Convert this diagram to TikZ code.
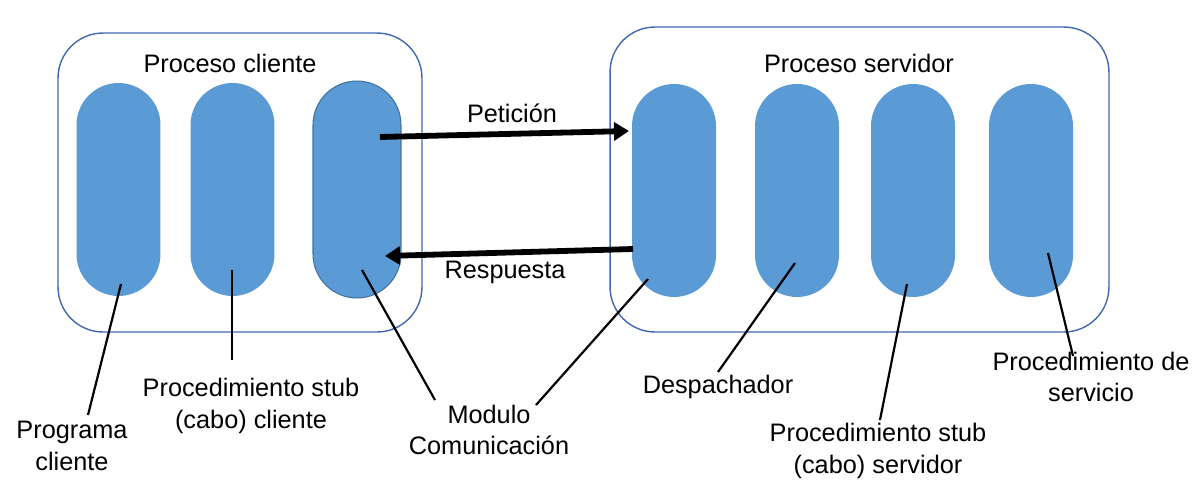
\documentclass[tikz,border=0pt]{standalone}
\usepackage{fontspec}
\setmainfont{Liberation Sans}
\usetikzlibrary{arrows.meta}
\definecolor{pillblue}{HTML}{5B9BD5}
\definecolor{pilledge}{HTML}{41719C}
\definecolor{boxedge}{HTML}{4168B0}
\begin{document}
\begin{tikzpicture}[x=0.02cm,y=-0.02cm,
  pill/.style={rectangle, rounded corners=0.84cm, minimum width=1.68cm, minimum height=4.26cm, fill=pillblue, inner sep=0pt},
  procbox/.style={rectangle, draw=boxedge, line width=0.8pt, rounded corners=0.9cm, inner sep=0pt},
  lbl/.style={font=\fontsize{14.4pt}{18pt}\selectfont, align=center, inner sep=0pt},
  leader/.style={line width=1.25pt},
  msg/.style={line width=3.3pt, -{Triangle[length=0.3cm,width=0.36cm]}}]
\useasboundingbox (0,0) rectangle (1200,487);
% process boxes
\node[procbox, minimum width=7.28cm, minimum height=5.98cm] (cbox) at (240,182.5) {};
\node[procbox, minimum width=9.98cm, minimum height=6.1cm] (sbox) at (859.5,179.5) {};
\node[lbl] (ctitle) at (230,63) {Proceso cliente};
\node[lbl] (stitle) at (859,63) {Proceso servidor};
% pills
\node[pill] (p1) at (118.5,189.5) {};
\node[pill] (p2) at (232.5,189.5) {};
\node[pill, draw=pilledge, line width=0.6pt, minimum width=1.76cm, minimum height=4.34cm, rounded corners=0.88cm] (p3) at (357,189.5) {};
\node[pill] (s1) at (674,190.5) {};
\node[pill] (s2) at (797,190.5) {};
\node[pill] (s3) at (913,190.5) {};
\node[pill] (s4) at (1031,190.5) {};
% messages
\coordinate (pa) at (380,137);
\coordinate (pb) at (629,131);
\coordinate (ra) at (633,249);
\coordinate (rb) at (385,256);
\draw[msg] (pa) -- (pb);
\draw[msg] (ra) -- (rb);
\node[lbl] (pet) at (512,113) {Petición};
\node[lbl] (resp) at (505,272) {Respuesta};
% labels
\node[lbl] (lprog) at (72,446) {Programa\\cliente};
\node[lbl] (lstubc) at (251,406) {Procedimiento stub\\(cabo) cliente};
\node[lbl] (lmod) at (489,430) {Modulo\\Comunicación};
\node[lbl] (ldesp) at (718,387) {Despachador};
\node[lbl] (lstubs) at (878,451) {Procedimiento stub\\(cabo) servidor};
\node[lbl] (lserv) at (1091,377) {Procedimiento de\\servicio};
% leader lines
\coordinate (a1) at (121,284); \coordinate (b1) at (88,415);
\coordinate (a2) at (232,270); \coordinate (b2) at (232,360);
\coordinate (a3) at (362,270); \coordinate (b3) at (435,400);
\coordinate (a4) at (648,279); \coordinate (b4) at (536,405);
\coordinate (a5) at (795,263); \coordinate (b5) at (718,372);
\coordinate (a6) at (907,284); \coordinate (b6) at (880,420);
\coordinate (a7) at (1048,253); \coordinate (b7) at (1073,356);
\draw[leader] (a1) -- (b1);
\draw[leader] (a2) -- (b2);
\draw[leader] (a3) -- (b3);
\draw[leader] (a4) -- (b4);
\draw[leader] (a5) -- (b5);
\draw[leader] (a6) -- (b6);
\draw[leader] (a7) -- (b7);
\end{tikzpicture}
\end{document}
